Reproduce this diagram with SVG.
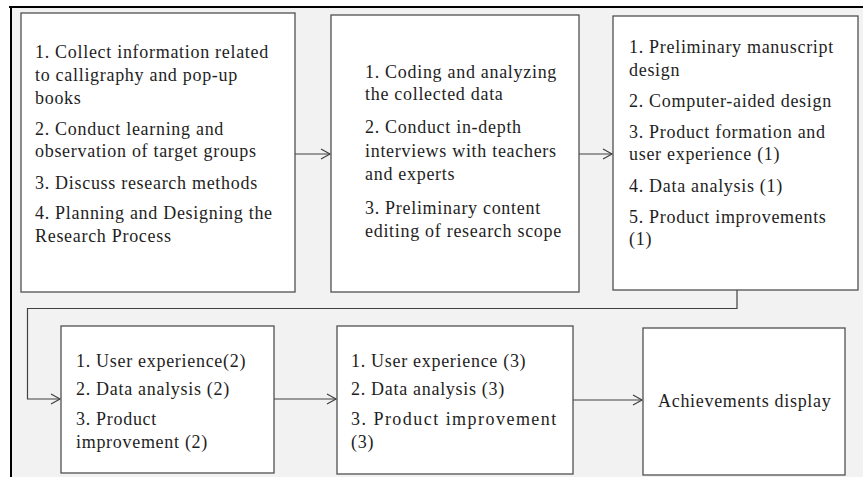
<svg xmlns="http://www.w3.org/2000/svg" width="863" height="477" viewBox="0 0 863 477">
<defs>
<style>
.box{fill:#ffffff;stroke:#505050;stroke-width:1.3}
.t{font-family:'Liberation Serif','Times New Roman','DejaVu Serif',serif;font-size:18px;fill:#1e1e1e;letter-spacing:0.7px}
.c{fill:none;stroke:#404040;stroke-width:1.2}
</style>
<marker id="ah" markerWidth="12" markerHeight="12" refX="10" refY="6" orient="auto" markerUnits="userSpaceOnUse">
<path d="M1,1 L10,6 L1,11" fill="none" stroke="#404040" stroke-width="1.2"/>
</marker>
</defs>
<rect x="0" y="0" width="863" height="477" fill="#ffffff"/>
<rect x="11" y="7" width="852" height="470" fill="#f2f2f2"/>
<path d="M9,7 H863 M11,7 V477" fill="none" stroke="#000000" stroke-width="2"/>
<g id="connectors">
<path class="c" d="M295,154 H330" marker-end="url(#ah)"/>
<path class="c" d="M579,154 H612" marker-end="url(#ah)"/>
<path class="c" d="M737,290 V308.5 H27.5 V399 H60" marker-end="url(#ah)"/>
<path class="c" d="M274,399 H336" marker-end="url(#ah)"/>
<path class="c" d="M573,400 H642" marker-end="url(#ah)"/>
</g>
<g font-family="Liberation Serif, serif">
<g id="node1">
<rect class="box" x="21" y="13" width="274" height="279"/>
<text class="t" x="35" y="58">1. Collect information related</text>
<text class="t" x="35" y="81">to calligraphy and pop-up</text>
<text class="t" x="35" y="104">books</text>
<text class="t" x="35" y="135">2. Conduct learning and</text>
<text class="t" x="35" y="157">observation of target groups</text>
<text class="t" x="35" y="189">3. Discuss research methods</text>
<text class="t" x="35" y="219">4. Planning and Designing the</text>
<text class="t" x="35" y="242">Research Process</text>
</g>
<g id="node2">
<rect class="box" x="331" y="15" width="248" height="277"/>
<text class="t" x="365" y="78">1. Coding and analyzing</text>
<text class="t" x="365" y="100">the collected data</text>
<text class="t" x="365" y="133">2. Conduct in-depth</text>
<text class="t" x="365" y="157">interviews with teachers</text>
<text class="t" x="365" y="180">and experts</text>
<text class="t" x="365" y="214">3. Preliminary content</text>
<text class="t" x="365" y="237">editing of research scope</text>
</g>
<g id="node3">
<rect class="box" x="613" y="16" width="245" height="274"/>
<text class="t" x="629" y="53">1. Preliminary manuscript</text>
<text class="t" x="629" y="76">design</text>
<text class="t" x="629" y="107">2. Computer-aided design</text>
<text class="t" x="629" y="138">3. Product formation and</text>
<text class="t" x="629" y="160">user experience (1)</text>
<text class="t" x="629" y="192">4. Data analysis (1)</text>
<text class="t" x="629" y="223">5. Product improvements</text>
<text class="t" x="629" y="245">(1)</text>
</g>
<g id="node4">
<rect class="box" x="61" y="326" width="213" height="147"/>
<text class="t" x="76" y="367">1. User experience(2)</text>
<text class="t" x="76" y="395">2. Data analysis (2)</text>
<text class="t" x="76" y="425">3. Product</text>
<text class="t" x="76" y="448">improvement (2)</text>
</g>
<g id="node5">
<rect class="box" x="337" y="326" width="236" height="148"/>
<text class="t" x="351" y="367">1. User experience (3)</text>
<text class="t" x="351" y="395">2. Data analysis (3)</text>
<text class="t" x="351" y="425" textLength="206" lengthAdjust="spacing">3. Product improvement</text>
<text class="t" x="351" y="448">(3)</text>
</g>
<g id="node6">
<rect class="box" x="643" y="328" width="202" height="147"/>
<text class="t" x="658" y="407">Achievements display</text>
</g>
</g>
</svg>
